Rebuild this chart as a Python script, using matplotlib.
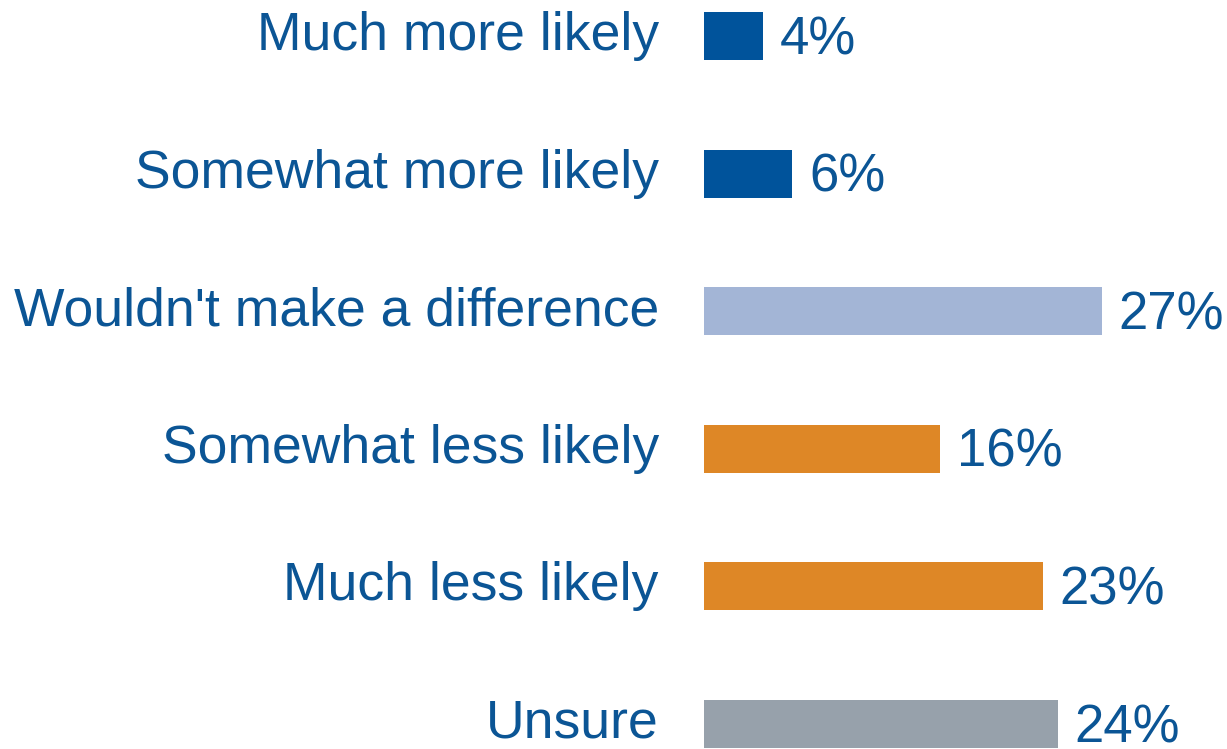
import matplotlib.pyplot as plt

categories = ["Much more likely", "Somewhat more likely", "Wouldn't make a difference",
              "Somewhat less likely", "Much less likely", "Unsure"]
values = [4, 6, 27, 16, 23, 24]
colors = ["#00539B", "#00539B", "#A3B5D6", "#DE8726", "#DE8726", "#97A1AB"]
text_color = "#0B5595"

plt.rcParams['font.family'] = ['Liberation Sans', 'DejaVu Sans']

fig = plt.figure(figsize=(12.27, 7.49), dpi=100)
ax = fig.add_axes([704 / 1227, 0, 1 - 704 / 1227, 1])

pos = list(range(len(categories)))
ax.barh(pos, values, height=0.35, color=colors)

ax.set_xlim(0, (1227 - 704) / 14.74)
ax.set_ylim(5 + 25 / 137.6, -36 / 137.6)

for i, v in enumerate(values):
    ax.annotate(f"{v}%", (v, i), xytext=(12, -3), textcoords='offset points',
                va='center', ha='left', fontsize=38, color=text_color)
    ax.annotate(categories[i], (0, i), xytext=(-32.5, 0), textcoords='offset points',
                va='center', ha='right', fontsize=38.5, color=text_color,
                annotation_clip=False)

ax.axis('off')
fig.savefig("out.png", dpi=100)
